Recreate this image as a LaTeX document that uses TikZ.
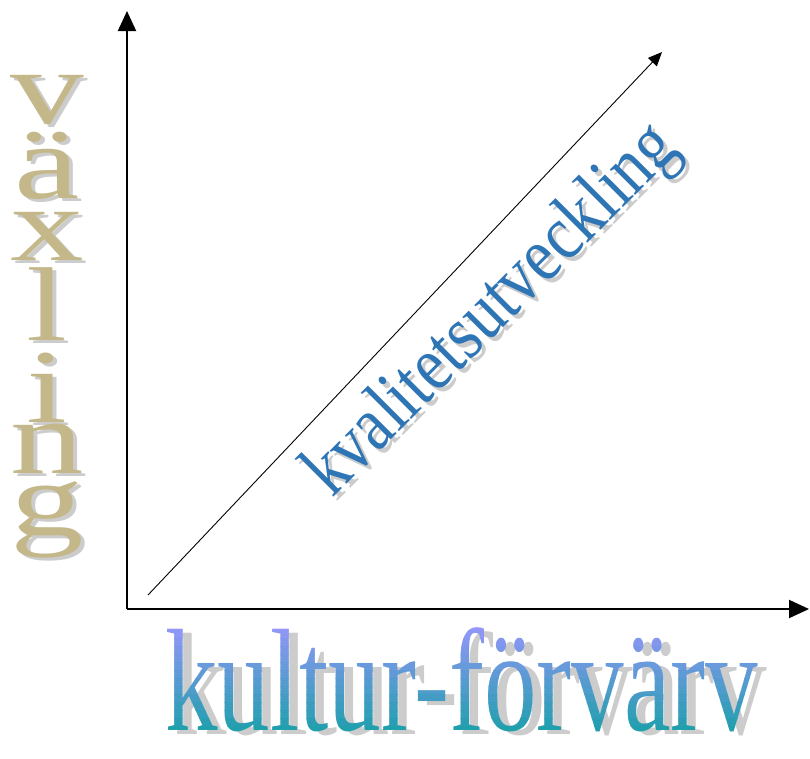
\documentclass[tikz,border=0pt]{standalone}
\usepackage{fontspec}
\setmainfont{Liberation Serif}
\usetikzlibrary{arrows.meta}
\definecolor{tanc}{RGB}{196,184,138}
\definecolor{shadowgray}{RGB}{204,204,204}
\definecolor{diagblue}{RGB}{46,117,182}
\definecolor{lav}{RGB}{150,150,250}
\definecolor{tealc}{RGB}{20,160,165}
\tikzset{
  axisline/.style={line width=2pt, -{Triangle[width=18pt,length=20pt]}},
  diagline/.style={line width=0.9pt, -{Triangle[width=12pt,length=14pt]}},
  vletter/.style={inner sep=0pt, anchor=base, xscale=1.4, font=\fontsize{105}{105}\selectfont},
  difftext/.style={inner sep=0pt, anchor=base west, rotate=45, xscale=0.83, font=\fontsize{78}{78}\selectfont},
  bottomtext/.style={inner sep=0pt, anchor=base west, xscale=0.72, font=\fontsize{146}{146}\selectfont},
}
\begin{document}
\begin{tikzpicture}[x=1pt,y=-1pt]
\useasboundingbox (0,0) rectangle (810,758);
% axes
\coordinate (O) at (127,609);
\coordinate (ytop) at (127,11);
\coordinate (xend) at (809,609);
\coordinate (ds) at (148,595);
\coordinate (de) at (662,52);
\draw[axisline] (O) -- (ytop);
\draw[axisline] (O) -- (xend);
\draw[diagline] (ds) -- (de);
% vertical label
\foreach \l/\b [count=\i] in {v/123, ä/198, x/260, l/340, i/422, n/473, g/535}{
  \node[vletter, text=shadowgray] (vs\i) at (51,\b+3) {\l};
  \node[vletter, text=tanc] (v\i) at (47,\b) {\l};
}
% diagonal label
\node[difftext, text=shadowgray] (kvs) at (336,503) {kvalitetsutveckling};
\node[difftext, text=diagblue] (kv) at (332,499) {kvalitetsutveckling};
% bottom label (vertical gradient by bands)
\node[bottomtext, text=shadowgray] (kfs) at (174,734) {kultur-förvärv};
\foreach \i in {0,...,14}{
  \pgfmathsetmacro{\ya}{622+8*\i}
  \pgfmathsetmacro{\yb}{630+8*\i}
  \pgfmathsetmacro{\p}{100-7*\i}
  \begin{scope}
    \clip (0,\ya) rectangle (810,\yb);
    \node[bottomtext, text=lav!\p!tealc] (kf\i) at (165,730) {kultur-förvärv};
  \end{scope}
}
\end{tikzpicture}
\end{document}
